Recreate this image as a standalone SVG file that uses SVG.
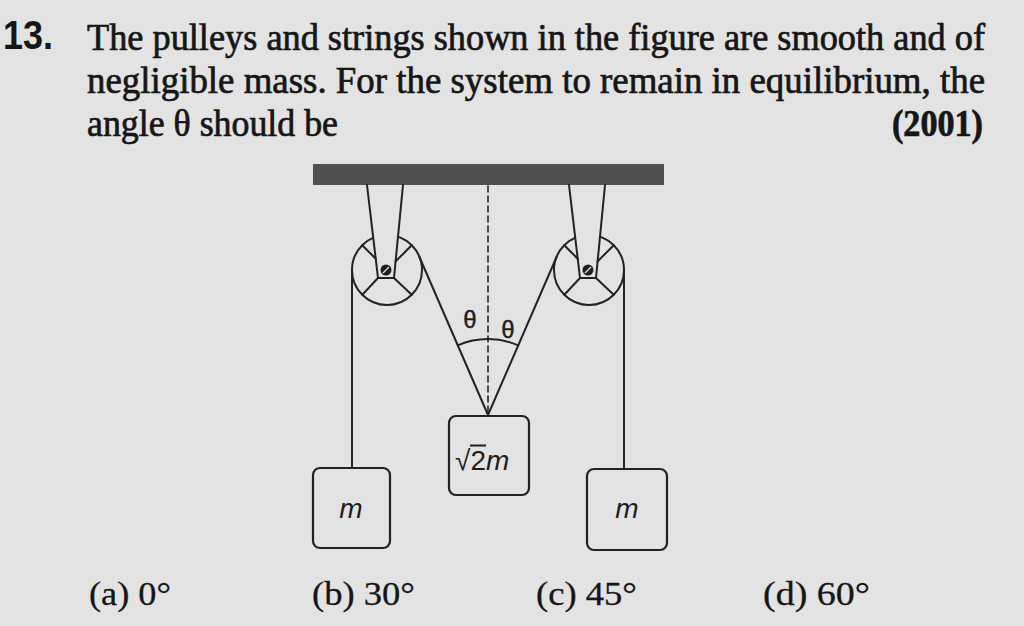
<svg xmlns="http://www.w3.org/2000/svg" width="1024" height="626" viewBox="0 0 1024 626">
<style>
.ln{fill:none;stroke:#222;stroke-width:2;stroke-linecap:round;stroke-linejoin:round}
.thin{fill:none;stroke:#222;stroke-width:1.6;stroke-linecap:round}
.box{fill:none;stroke:#222;stroke-width:2.2}
.q{font-family:"Liberation Serif","Times New Roman",serif;font-size:37px;fill:#161616;stroke:#161616;stroke-width:0.7}
.ans{font-family:"Liberation Serif","Times New Roman",serif;font-size:34px;fill:#161616;stroke:#161616;stroke-width:0.3}
.lab{font-family:"Liberation Sans",Arial,sans-serif;fill:#1e1e1e}
</style>
<rect x="0" y="0" width="1024" height="626" fill="#e3e3e3"/>

<g id="question">
<text x="3" y="49" font-family="'Liberation Sans',Arial,sans-serif" font-weight="bold" font-size="40" fill="#161616" textLength="50" lengthAdjust="spacingAndGlyphs">13.</text>
<text class="q" x="87" y="50" textLength="898" lengthAdjust="spacingAndGlyphs">The pulleys and strings shown in the figure are smooth and of</text>
<text class="q" x="87" y="93" textLength="898" lengthAdjust="spacingAndGlyphs">negligible mass. For the system to remain in equilibrium, the</text>
<text class="q" x="87" y="136" textLength="251" lengthAdjust="spacingAndGlyphs">angle θ should be</text>
<text class="q" x="892" y="136" font-weight="bold" textLength="91" lengthAdjust="spacingAndGlyphs">(2001)</text>
</g>

<g id="ceiling">
<rect x="313" y="164" width="351" height="21" fill="#505050"/>
</g>

<g id="connectors">
<line class="thin" x1="488" y1="186" x2="488" y2="415" stroke-dasharray="6,4"/>
<line class="ln" x1="352" y1="270" x2="352" y2="468"/>
<line class="ln" x1="419" y1="256" x2="488" y2="415"/>
<line class="ln" x1="557" y1="256" x2="488" y2="415"/>
<line class="ln" x1="624" y1="270" x2="624" y2="469"/>
<path class="ln" d="M457.8 345.3 A76 76 0 0 1 488 339"/>
<path class="ln" d="M518.2 345.3 A76 76 0 0 0 488 339"/>
</g>

<g id="pulley-left">
<circle class="ln" cx="387" cy="270" r="35" stroke-width="2.4"/>
<polygon points="367,185 378,278 394,278 403,185" fill="#e3e3e3"/>
<line class="ln" x1="367" y1="185" x2="378" y2="278"/>
<line class="ln" x1="403" y1="185" x2="394" y2="278"/>
<line class="ln" x1="378" y1="278" x2="394" y2="278"/>
<line class="ln" x1="362.3" y1="245.3" x2="375.7" y2="258.7"/>
<line class="ln" x1="411.7" y1="245.3" x2="395.6" y2="261.4"/>
<line class="ln" x1="362.3" y1="294.7" x2="378" y2="278"/>
<line class="ln" x1="411.7" y1="294.7" x2="394" y2="278"/>
<circle cx="386" cy="270" r="5.5" fill="#1e1e1e"/>
<line x1="383" y1="273" x2="389" y2="267" stroke="#e3e3e3" stroke-width="1.3"/>
</g>

<g id="pulley-right">
<circle class="ln" cx="589" cy="270" r="35" stroke-width="2.4"/>
<polygon points="569,185 580,278 596,278 605,185" fill="#e3e3e3"/>
<line class="ln" x1="569" y1="185" x2="580" y2="278"/>
<line class="ln" x1="605" y1="185" x2="596" y2="278"/>
<line class="ln" x1="580" y1="278" x2="596" y2="278"/>
<line class="ln" x1="564.3" y1="245.3" x2="577.7" y2="258.7"/>
<line class="ln" x1="613.7" y1="245.3" x2="597.6" y2="261.4"/>
<line class="ln" x1="564.3" y1="294.7" x2="580" y2="278"/>
<line class="ln" x1="613.7" y1="294.7" x2="596" y2="278"/>
<circle cx="588" cy="270" r="5.5" fill="#1e1e1e"/>
<line x1="585" y1="273" x2="591" y2="267" stroke="#e3e3e3" stroke-width="1.3"/>
</g>

<g id="theta-labels">
<text class="lab" x="470" y="328" font-size="24" text-anchor="middle" stroke="#1e1e1e" stroke-width="0.4">θ</text>
<text class="lab" x="508" y="338" font-size="24" text-anchor="middle" stroke="#1e1e1e" stroke-width="0.4">θ</text>
</g>

<g id="mass-left">
<rect class="box" x="313" y="468" width="77" height="80" rx="7"/>
<text class="lab" x="351" y="518" font-size="28" font-style="italic" text-anchor="middle">m</text>
</g>

<g id="mass-center">
<rect class="box" x="449" y="416" width="80" height="79" rx="7"/>
<text class="lab" x="455" y="470" font-size="28"><tspan>√</tspan><tspan>2</tspan><tspan font-style="italic">m</tspan></text>
<line x1="470" y1="445.5" x2="486" y2="445.5" stroke="#1e1e1e" stroke-width="2"/>
</g>

<g id="mass-right">
<rect class="box" x="587" y="469" width="80" height="81" rx="7"/>
<text class="lab" x="627" y="518" font-size="28" font-style="italic" text-anchor="middle">m</text>
</g>

<g id="options">
<text class="ans" x="89" y="605" textLength="82" lengthAdjust="spacingAndGlyphs">(a) 0°</text>
<text class="ans" x="312" y="605" textLength="103" lengthAdjust="spacingAndGlyphs">(b) 30°</text>
<text class="ans" x="536" y="605" textLength="101" lengthAdjust="spacingAndGlyphs">(c) 45°</text>
<text class="ans" x="763" y="605" textLength="107" lengthAdjust="spacingAndGlyphs">(d) 60°</text>
</g>
</svg>
